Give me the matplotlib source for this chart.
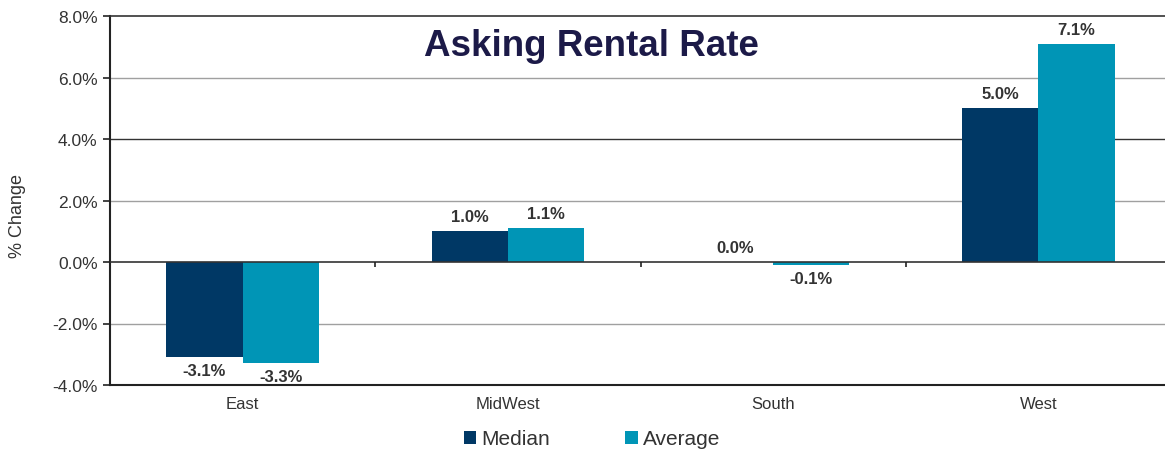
import matplotlib
matplotlib.use("Agg")
import matplotlib.pyplot as plt
import numpy as np

plt.rcParams["font.family"] = ["Liberation Sans", "DejaVu Sans"]

categories = ["East", "MidWest", "South", "West"]
median = [-3.1, 1.0, 0.0, 5.0]
average = [-3.3, 1.1, -0.1, 7.1]
yticks = [-4, -2, 0, 2, 4, 6, 8]

c_med = "#003865"
c_avg = "#0095B6"
txt = "#333333"

fig = plt.figure(figsize=(11.65, 4.52), dpi=100)
ax = fig.add_axes([110/1165, 1-386/452, (1171-110)/1165, (386-17)/452])

x = np.arange(len(categories))
w = 0.287
b1 = ax.bar(x - w/2, median, w, color=c_med, label="Median", zorder=3)
b2 = ax.bar(x + w/2, average, w, color=c_avg, label="Average", zorder=3)

ax.set_xlim(-0.5, 3.5)
ax.set_ylim(-4, 8)
ax.set_yticks(yticks)
ax.set_yticklabels([f"{v:.1f}%" for v in yticks], fontsize=12.5, color=txt)
ax.set_xticks(x)
ax.set_xticklabels(categories, fontsize=12, color=txt)
ax.tick_params(axis="x", length=0, pad=8)
ax.tick_params(axis="y", length=5, width=1.2, color="#222222", pad=4)

for t in yticks[1:-1]:
    col = "#333333" if t in (0, 4) else "#a0a0a0"
    lw = 1.2 if t == 0 else 1.0
    ax.axhline(t, color=col, lw=lw, zorder=2 if t != 0 else 4)
ax.vlines([0.5, 1.5, 2.5], -0.17, 0, color="#222222", lw=1.2, zorder=4)

ax.spines["right"].set_visible(False)
ax.spines["top"].set_color("#333333")
ax.spines["top"].set_linewidth(1.2)
ax.spines["left"].set_color("#222222")
ax.spines["left"].set_linewidth(1.5)
ax.spines["bottom"].set_color("#222222")
ax.spines["bottom"].set_linewidth(1.5)

for bars, vals in ((b1, median), (b2, average)):
    for r, v in zip(bars, vals):
        cx = r.get_x() + r.get_width()/2
        if v >= 0:
            ax.annotate(f"{v:.1f}%", (cx, v), xytext=(0, 5), textcoords="offset points",
                        ha="center", va="bottom", fontsize=12, fontweight="bold", color=txt)
        else:
            ax.annotate(f"{v:.1f}%", (cx, v), xytext=(0, -4), textcoords="offset points",
                        ha="center", va="top", fontsize=12, fontweight="bold", color=txt)

ax.set_ylabel("% Change", fontsize=13, color=txt)
ax.yaxis.set_label_coords(-84/1061, 0.46)

fig.text(591/1165, 1-47/452, "Asking Rental Rate", ha="center", va="center",
         fontsize=26.5, fontweight="bold", color="#1c1a48")

leg = fig.legend(handles=[b1, b2], labels=["Median", "Average"], loc="center",
                 bbox_to_anchor=(592/1165, 1-440/452), ncol=2, frameon=False,
                 fontsize=15, handlelength=0.6, handleheight=0.6, handletextpad=0.25,
                 columnspacing=3.6, borderaxespad=0)
for t in leg.get_texts():
    t.set_color(txt)

fig.savefig("out.png", dpi=100)
